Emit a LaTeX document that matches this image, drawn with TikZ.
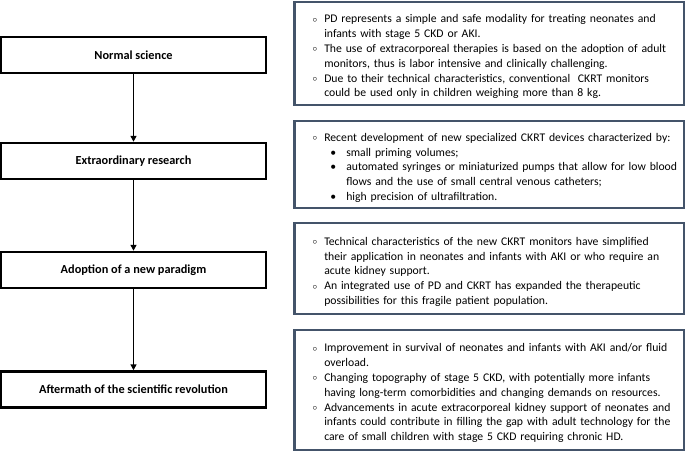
\documentclass[tikz,border=0pt]{standalone}
\usepackage{fontspec}
\setmainfont{Carlito}
\usepackage{enumitem}
\usetikzlibrary{arrows.meta}
\definecolor{boxblue}{RGB}{68,84,106}
\setlist[itemize,1]{label={\raisebox{0.6pt}{\small$\circ$}},leftmargin=25pt,labelsep=7pt,itemsep=0pt,topsep=0pt,parsep=0pt,partopsep=0pt}
\setlist[itemize,2]{label={\textbullet},leftmargin=22pt,labelsep=10pt,itemsep=0pt,topsep=0pt,parsep=0pt,partopsep=0pt}
\begin{document}
\begin{tikzpicture}[x=1pt,y=-1pt,
	stage/.style={draw,line width=2.5pt,minimum width=265pt,minimum height=36pt,inner sep=0pt,font=\fontsize{12.3}{14}\selectfont\bfseries},
	notes/.style={draw=boxblue,line width=2.5pt,anchor=west,minimum width=390pt,text width=380pt,inner xsep=4pt,
		font=\fontsize{11.7}{14.8}\selectfont,align=left},
	flow/.style={-{Triangle[width=6pt,length=6pt]},line width=1.8pt}]
	\useasboundingbox (0,0) rectangle (685,455);

	% stages of the revolution
	\node[stage] (normal) at (133.5,55) {Normal science};
	\node[stage] (extra) at (133.5,161) {Extraordinary research};
	\node[stage] (adopt) at (133.5,270) {Adoption of a new paradigm};
	\node[stage] (after) at (133.5,389.5) {Aftermath of the scientific revolution};

	\draw[flow] (normal) -- (extra);
	\draw[flow] (extra) -- (adopt);
	\draw[flow] (adopt) -- (after);

	% notes on the right
	\node[notes,minimum height=103pt] (n1) at (293,53.5) {\begin{itemize}
		\item PD represents a simple and safe modality for treating neonates and\newline infants with stage 5 CKD or AKI.
		\item The use of extracorporeal therapies is based on the adoption of adult\newline monitors, thus is labor intensive and clinically challenging.
		\item Due to their technical characteristics, conventional\ \ CKRT monitors\newline could be used only in children weighing more than 8 kg.
	\end{itemize}};
	\node[notes,minimum height=87pt] (n2) at (293,164.5) {\begin{itemize}
		\item Recent development of new specialized CKRT devices characterized by:
		\begin{itemize}
			\item small priming volumes;
			\item automated syringes or miniaturized pumps that allow for low blood\newline flows and the use of small central venous catheters;
			\item high precision of ultrafiltration.
		\end{itemize}
	\end{itemize}};
	\node[notes,minimum height=91pt] (n3) at (293,268.5) {\begin{itemize}
		\item Technical characteristics of the new CKRT monitors have simplified\newline their application in neonates and infants with AKI or who require an\newline acute kidney support.
		\item An integrated use of PD and CKRT has expanded the therapeutic\newline possibilities for this fragile patient population.
	\end{itemize}};
	\node[notes,minimum height=120pt] (n4) at (293,390) {\begin{itemize}
		\item Improvement in survival of neonates and infants with AKI and/or fluid\newline overload.
		\item Changing topography of stage 5 CKD, with potentially more infants\newline having long-term comorbidities and changing demands on resources.
		\item Advancements in acute extracorporeal kidney support of neonates and\newline infants could contribute in filling the gap with adult technology for the\newline care of small children with stage 5 CKD requiring chronic HD.
	\end{itemize}};
\end{tikzpicture}
\end{document}
